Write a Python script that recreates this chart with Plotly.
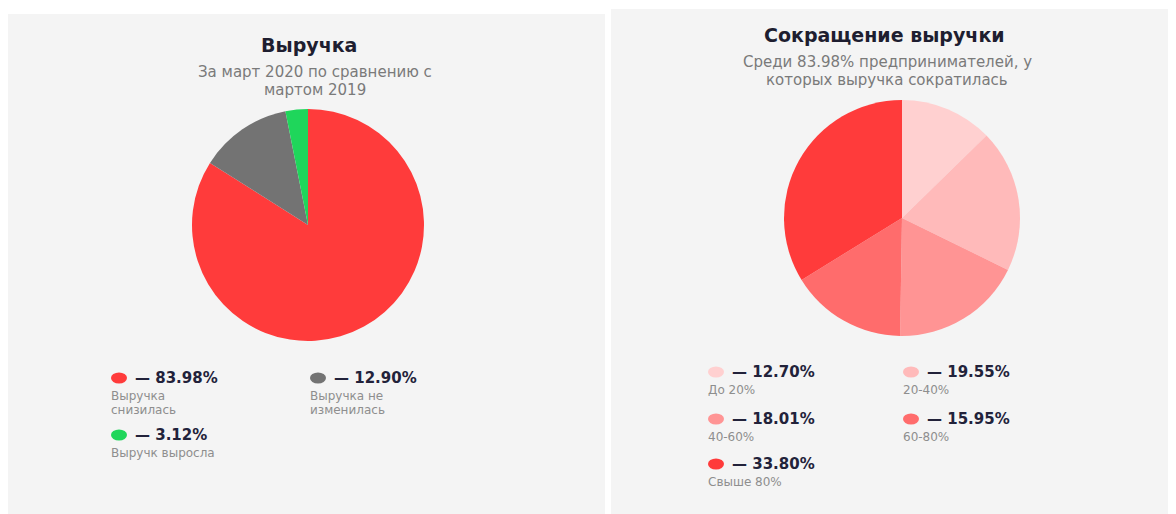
import plotly.graph_objects as go

# left chart: revenue March 2020 vs March 2019
rev_labels = ['Выручка\nснизилась', 'Выручка не\nизменилась', 'Выручк выросла']
rev_values = [83.98, 12.90, 3.12]
rev_colors = ['#ff3b3b', '#737373', '#1fd65b']

# right chart: size of the revenue drop
drop_labels = ['До 20%', '20-40%', '40-60%', '60-80%', 'Свыше 80%']
drop_values = [12.70, 19.55, 18.01, 15.95, 33.80]
drop_colors = ['#ffd0d0', '#ffbaba', '#ff9494', '#ff6c6c', '#ff3b3b']

# page body has an 8px margin, so the figure starts at (8, 8)
OFF = 8
W, H = 1176 - OFF, 514 - OFF


def px(x):
    return (x - OFF) / W


def py(y):
    return 1 - (y - OFF) / H


def pie_domain(cx, cy, d):
    return dict(x=[px(cx - d / 2), px(cx + d / 2)], y=[py(cy + d / 2), py(cy - d / 2)])


fig = go.Figure()
fig.add_trace(go.Pie(values=rev_values, labels=rev_labels, marker=dict(colors=rev_colors, line=dict(width=0)),
                     sort=False, direction='clockwise', rotation=0, textinfo='none', hoverinfo='none',
                     showlegend=False, domain=pie_domain(308, 225, 232)))
fig.add_trace(go.Pie(values=drop_values, labels=drop_labels, marker=dict(colors=drop_colors, line=dict(width=0)),
                     sort=False, direction='clockwise', rotation=0, textinfo='none', hoverinfo='none',
                     showlegend=False, domain=pie_domain(902, 218, 236)))

shapes = [
    dict(type='rect', xref='paper', yref='paper', x0=0, x1=px(605), y0=0, y1=py(14),
         fillcolor='#f4f4f4', line=dict(width=0), layer='below'),
    dict(type='rect', xref='paper', yref='paper', x0=px(611), x1=1, y0=0, y1=py(9),
         fillcolor='#f4f4f4', line=dict(width=0), layer='below'),
]
annotations = []

TITLE = dict(family='DejaVu Sans', size=19, color='#1e1e30', weight='bold')
SUB = dict(family='DejaVu Sans', size=15, color='#7a7a7a')
NUM = dict(family='DejaVu Sans', size=15, color='#22223a', weight='bold')
LAB = dict(family='DejaVu Sans', size=12, color='#8e8e8e')


def text(x, y, s, font, anchor='center'):
    annotations.append(dict(x=px(x), y=py(y), xref='paper', yref='paper', text=s, showarrow=False,
                            font=font, xanchor=anchor, yanchor='middle'))


text(309, 45, 'Выручка', TITLE)
text(315, 72, 'За март 2020 по сравнению с', SUB)
text(315, 90, 'мартом 2019', SUB)
text(884, 35, 'Сокращение выручки', TITLE)
text(887, 62, 'Среди 83.98% предпринимателей, у', SUB)
text(887, 80, 'которых выручка сократилась', SUB)


def legend_item(x, y, value, label, color):
    shapes.append(dict(type='circle', xref='paper', yref='paper', x0=px(x), x1=px(x + 16),
                       y0=py(y + 5.5), y1=py(y - 5.5), fillcolor=color, line=dict(width=0)))
    text(x + 22, y, '— %.2f%%' % value, NUM, 'left')
    lines = label.split('\n')
    for i, ln in enumerate(lines):
        text(x - 2, y + 18 + 14 * i, ln, LAB, 'left')


left_pos = [(111, 378), (310, 378), (111, 435)]
for (x, y), v, l, c in zip(left_pos, rev_values, rev_labels, rev_colors):
    legend_item(x, y, v, l, c)

right_pos = [(708, 372), (903, 372), (708, 419), (903, 419), (708, 464)]
for (x, y), v, l, c in zip(right_pos, drop_values, drop_labels, drop_colors):
    legend_item(x, y, v, l, c)

fig.update_layout(width=W, height=H, margin=dict(l=0, r=0, t=0, b=0),
                  paper_bgcolor='white', plot_bgcolor='white',
                  shapes=shapes, annotations=annotations)
fig.write_html("out.html")
